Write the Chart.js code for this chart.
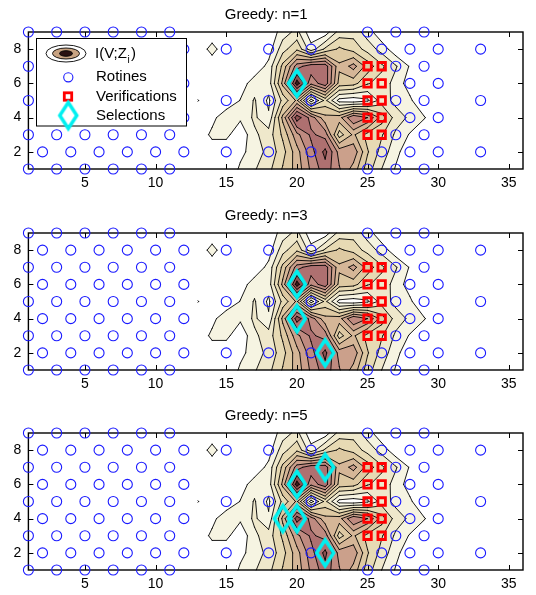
<!DOCTYPE html>
<html>
<head>
<meta charset="utf-8">
<script src="https://cdn.jsdelivr.net/npm/chart.js@4.4.0/dist/chart.umd.min.js"></script>
<style>
  html, body { margin: 0; padding: 0; background: #fff; overflow: hidden; }
  #wrap { position: relative; width: 536px; height: 595px; }
  .panel { position: absolute; left: 0; width: 536px; height: 200px; }
</style>
</head>
<body>
<div id="wrap">
  <div class="panel" style="top:0px"><canvas id="c1" width="536" height="200"></canvas></div>
  <div class="panel" style="top:201px"><canvas id="c3" width="536" height="200"></canvas></div>
  <div class="panel" style="top:401px"><canvas id="c5" width="536" height="200"></canvas></div>
</div>
<script>
// grid of I(V;Z_i) values, columns x = 13..31, one array per row y
const xCols = [13, 14, 15, 16, 17, 18, 19, 20, 21, 22, 23, 24, 25, 26, 27, 28, 29, 30, 31];
const yRows = [1, 2, 3, 4, 5, 6, 7, 8, 9];
const miY1 = [0, 0, 0, 1.2, 1.9, 2.7, 4.1, 5.4, 7.2, 8.6, 7.1, 5.6, 3.5, 2.0, 0.9, 0, 0, 0, 0];
const miY2 = [0, 0.2, 0.2, 0.7, 1.5, 2.3, 3.6, 5.6, 7.6, 9.3, 6.6, 6.7, 4.1, 2.6, 1.3, 0.3, 0, 0, 0];
const miY3 = [0.1, 1.3, 1.3, 0.2, 1.8, 2.5, 4.2, 6.7, 8.2, 7.6, 3.5, 5.2, 3.6, 3.1, 1.8, 0.9, 0, 0, 0];
const miY4 = [0, 0.6, 1.9, 1.2, 2.2, 1.15, 5.3, 9.6, 7.6, 5.3, 5.6, 8.0, 7.0, 4.5, 2.5, 1.8, 1.1, 0, 0];
const miY5 = [1.05, 0, 0, 1.05, 2.1, 0.8, 3.3, 5.2, 0.5, 3.3, 0.6, 0.3, 0.8, 2.5, 1.7, 1.2, 0, 0, 0];
const miY6 = [0, 0, 0, 0.5, 1.5, 1.45, 5.3, 10.6, 7.3, 8.7, 4.6, 4.4, 3.1, 2.6, 1.6, 0.5, 0, 0, 0];
const miY7 = [0, 0, 0, 0, 0.3, 1.3, 4.3, 7.5, 8.7, 8.6, 5.2, 6.4, 4.6, 3.2, 2.1, 0.9, 0, 0, 0];
const miY8 = [0, 1.55, 0, 0, 0, 0.5, 2.6, 3.8, 1.4, 3.2, 4.2, 3.6, 2.6, 1.6, 0.3, 0, 0, 0, 0];
const miY9 = [0, 0, 0, 0, 0, 0.2, 1.5, 2.3, 0.3, 0.4, 2.4, 2.6, 1.5, 0.2, 0, 0, 0, 0, 0];
const miGrid = [miY1, miY2, miY3, miY4, miY5, miY6, miY7, miY8, miY9];

const contourLevels = [1, 2, 3, 4, 5, 6, 7, 8, 9, 10];
const levelColors = ['#f6f4e2', '#efe8cb', '#e7dab4', '#dec9a2', '#d5b697',
                     '#cba08b', '#bf8a80', '#ae7070', '#8f5252', '#3c1c1c'];

// routine positions, x values per row
const rotY9 = [1, 3, 5, 7, 9, 11, 25, 27, 29];
const rotY8 = [2, 4, 6, 8, 10, 12, 15, 18, 21, 26, 28, 30, 33];
const rotY7 = [1, 3, 5, 7, 9, 11, 27, 29];
const rotY6 = [2, 4, 6, 8, 10, 12, 28, 30];
const rotY5 = [1, 3, 5, 7, 9, 11, 15, 18, 21, 27, 29, 33];
const rotY4 = [2, 4, 6, 8, 10, 12, 28, 30];
const rotY3 = [1, 3, 5, 7, 9, 11, 27, 29];
const rotY2 = [2, 4, 6, 8, 10, 12, 15, 18, 21, 26, 28, 30, 33];
const rotY1 = [1, 3, 5, 7, 9, 11, 25, 27, 29];

const verifX = [25, 26];
const verifY = [3, 4, 5, 6, 7];

const selX1 = [20];             const selY1 = [6];
const selX3 = [20, 20, 22];     const selY3 = [6, 4, 2];
const selX5 = [20, 20, 22, 22, 19]; const selY5 = [6, 4, 2, 7, 4];

const xTicks = [5, 10, 15, 20, 25, 30, 35];
const yTicks = [2, 4, 6, 8];

const FONT = '"Liberation Sans", Arial, Helvetica, sans-serif';
Chart.defaults.font.family = FONT;

const rotRows = [rotY1, rotY2, rotY3, rotY4, rotY5, rotY6, rotY7, rotY8, rotY9];
const rotinePts = [];
rotRows.forEach((xs, j) => xs.forEach(x => rotinePts.push({ x: x, y: yRows[j] })));
const verifPts = [];
verifX.forEach(x => verifY.forEach(y => verifPts.push({ x: x, y: y })));

function makeDiamond(w, h, lw, color) {
  const c = document.createElement('canvas');
  c.width = 28; c.height = 38;
  const g = c.getContext('2d');
  const cx = c.width / 2, cy = c.height / 2;
  g.beginPath();
  g.moveTo(cx, cy - h / 2);
  g.lineTo(cx + w / 2, cy);
  g.lineTo(cx, cy + h / 2);
  g.lineTo(cx - w / 2, cy);
  g.closePath();
  g.lineWidth = lw;
  g.strokeStyle = color;
  g.stroke();
  return c;
}
const diamond = makeDiamond(17, 26, 3.5, '#00f0f0');

// filled contours by marching squares, drawn through the chart scales
function drawContours(chart) {
  const ctx = chart.ctx;
  const sx = v => chart.scales.x.getPixelForValue(v);
  const sy = v => chart.scales.y.getPixelForValue(v);
  const nx = xCols.length, ny = yRows.length;
  const lines = [];
  ctx.save();
  contourLevels.forEach((lev, k) => {
    ctx.beginPath();
    for (let j = 0; j < ny - 1; j++) {
      for (let i = 0; i < nx - 1; i++) {
        const pts = [[xCols[i], yRows[j]], [xCols[i + 1], yRows[j]],
                     [xCols[i + 1], yRows[j + 1]], [xCols[i], yRows[j + 1]]];
        const vals = [miGrid[j][i], miGrid[j][i + 1], miGrid[j + 1][i + 1], miGrid[j + 1][i]];
        const poly = [];
        for (let c = 0; c < 4; c++) {
          const n = (c + 1) % 4;
          const inA = vals[c] > lev, inB = vals[n] > lev;
          if (inA) poly.push({ x: pts[c][0], y: pts[c][1], cross: false });
          if (inA !== inB) {
            const t = (lev - vals[c]) / (vals[n] - vals[c]);
            poly.push({ x: pts[c][0] + t * (pts[n][0] - pts[c][0]),
                        y: pts[c][1] + t * (pts[n][1] - pts[c][1]), cross: true });
          }
        }
        if (poly.length < 3) continue;
        ctx.moveTo(sx(poly[0].x), sy(poly[0].y));
        for (let p = 1; p < poly.length; p++) ctx.lineTo(sx(poly[p].x), sy(poly[p].y));
        ctx.closePath();
        for (let p = 0; p < poly.length; p++) {
          const a = poly[p], b = poly[(p + 1) % poly.length];
          if (a.cross && b.cross) lines.push([a, b]);
        }
      }
    }
    ctx.fillStyle = levelColors[k];
    ctx.fill();
  });
  ctx.beginPath();
  lines.forEach(([a, b]) => {
    ctx.moveTo(sx(a.x), sy(a.y));
    ctx.lineTo(sx(b.x), sy(b.y));
  });
  ctx.strokeStyle = '#000';
  ctx.lineWidth = 0.9;
  ctx.lineCap = 'round';
  ctx.stroke();
  ctx.restore();
}

// matlab style box with inward ticks
function drawBox(chart) {
  const ctx = chart.ctx;
  const a = chart.chartArea;
  const xs = chart.scales.x, ys = chart.scales.y;
  ctx.save();
  ctx.strokeStyle = '#000';
  ctx.lineWidth = 1;
  ctx.beginPath();
  xTicks.forEach(v => {
    const px = Math.round(xs.getPixelForValue(v)) + 0.5;
    ctx.moveTo(px, a.bottom); ctx.lineTo(px, a.bottom - 5);
    ctx.moveTo(px, a.top); ctx.lineTo(px, a.top + 5);
  });
  yTicks.forEach(v => {
    const py = Math.round(ys.getPixelForValue(v)) + 0.5;
    ctx.moveTo(a.left, py); ctx.lineTo(a.left + 5, py);
    ctx.moveTo(a.right, py); ctx.lineTo(a.right - 5, py);
  });
  ctx.stroke();
  ctx.lineWidth = 1.4;
  ctx.strokeRect(a.left, a.top, a.right - a.left, a.bottom - a.top);
  ctx.restore();
}

const backdrop = {
  id: 'backdrop',
  beforeDatasetsDraw(chart) {
    drawContours(chart);
    drawBox(chart);
  }
};

const legendBox = {
  id: 'legendBox',
  afterDatasetsDraw(chart) {
    if (!chart.options.plugins.legendBox.show) return;
    const ctx = chart.ctx;
    ctx.save();
    ctx.fillStyle = '#fff';
    ctx.fillRect(36, 38.5, 150, 87.5);
    ctx.strokeStyle = '#000';
    ctx.lineWidth = 1;
    ctx.strokeRect(36.5, 38.5, 150, 87.5);
    const ell = (cx, cy, rx, ry, fill) => {
      ctx.beginPath();
      ctx.ellipse(cx, cy, rx, ry, 0, 0, Math.PI * 2);
      ctx.fillStyle = fill; ctx.fill();
      ctx.lineWidth = 0.9; ctx.strokeStyle = '#000'; ctx.stroke();
    };
    ell(66, 53.5, 20, 8.5, '#ffffff');
    ell(66, 53.5, 13.5, 5.5, '#c8a382');
    ell(66, 53.5, 6.5, 2.8, '#2a1212');
    // circle
    ctx.beginPath();
    ctx.arc(68.3, 77.3, 4.6, 0, Math.PI * 2);
    ctx.lineWidth = 1.1; ctx.strokeStyle = '#1a1aff'; ctx.stroke();
    // square
    ctx.fillStyle = '#fff';
    ctx.fillRect(64.3, 92.8, 7.4, 7.4);
    ctx.lineWidth = 2.8; ctx.strokeStyle = '#ff0000';
    ctx.strokeRect(64.3, 92.8, 7.4, 7.4);
    // diamond
    ctx.drawImage(diamond, 68.3 - diamond.width / 2, 115.5 - diamond.height / 2);
    // texts
    ctx.fillStyle = '#000';
    ctx.textBaseline = 'middle';
    ctx.font = '15px ' + FONT;
    ctx.fillText('I(V;Z', 95, 53.5);
    const w = ctx.measureText('I(V;Z').width;
    ctx.font = '10px ' + FONT;
    ctx.fillText('i', 95 + w + 0.5, 60);
    ctx.font = '15px ' + FONT;
    ctx.fillText(')', 95 + w + 4, 53.5);
    ctx.fillText('Rotines', 96, 77.3);
    ctx.fillText('Verifications', 96, 96.5);
    ctx.fillText('Selections', 96, 115.5);
    ctx.restore();
  }
};

function makeChart(id, title, selX, selY, withLegend) {
  const selPts = selX.map((x, i) => ({ x: x, y: selY[i] }));
  return new Chart(document.getElementById(id).getContext('2d'), {
    type: 'scatter',
    data: {
      datasets: [
        {
          label: 'Selections',
          data: selPts,
          pointStyle: diamond,
          pointRadius: 12,
          clip: false
        },
        {
          label: 'Verifications',
          data: verifPts,
          pointStyle: 'rect',
          pointRadius: 5.3,
          borderWidth: 2.8,
          borderColor: '#ff0000',
          backgroundColor: 'rgba(0,0,0,0)',
          clip: false
        },
        {
          label: 'Rotines',
          data: rotinePts,
          pointStyle: 'circle',
          pointRadius: 5,
          borderWidth: 1.1,
          borderColor: '#1a1aff',
          backgroundColor: 'rgba(0,0,0,0)',
          clip: false
        }
      ]
    },
    options: {
      responsive: false,
      animation: false,
      events: [],
      layout: { padding: { left: 0, right: 3.6, top: 0, bottom: 0 } },
      plugins: {
        legend: { display: false },
        tooltip: { enabled: false },
        legendBox: { show: withLegend },
        title: {
          display: true,
          text: title,
          color: '#000',
          font: { size: 15, weight: 'normal' },
          padding: { top: 5.5, bottom: 8.5 }
        }
      },
      scales: {
        x: {
          type: 'linear',
          min: 1,
          max: 36,
          afterBuildTicks: s => { s.ticks = xTicks.map(v => ({ value: v })); },
          afterFit: s => { s.height = 31; },
          grid: { display: false, drawTicks: false },
          border: { display: false },
          ticks: { color: '#000', font: { size: 14 }, padding: 6, maxRotation: 0 }
        },
        y: {
          type: 'linear',
          min: 1,
          max: 9,
          afterBuildTicks: s => { s.ticks = yTicks.map(v => ({ value: v })); },
          afterFit: s => { s.width = 28.4; },
          grid: { display: false, drawTicks: false },
          border: { display: false },
          ticks: { color: '#000', font: { size: 14 }, padding: 7 }
        }
      }
    },
    plugins: [backdrop, legendBox]
  });
}

makeChart('c1', 'Greedy: n=1', selX1, selY1, true);
makeChart('c3', 'Greedy: n=3', selX3, selY3, false);
makeChart('c5', 'Greedy: n=5', selX5, selY5, false);
</script>
</body>
</html>
